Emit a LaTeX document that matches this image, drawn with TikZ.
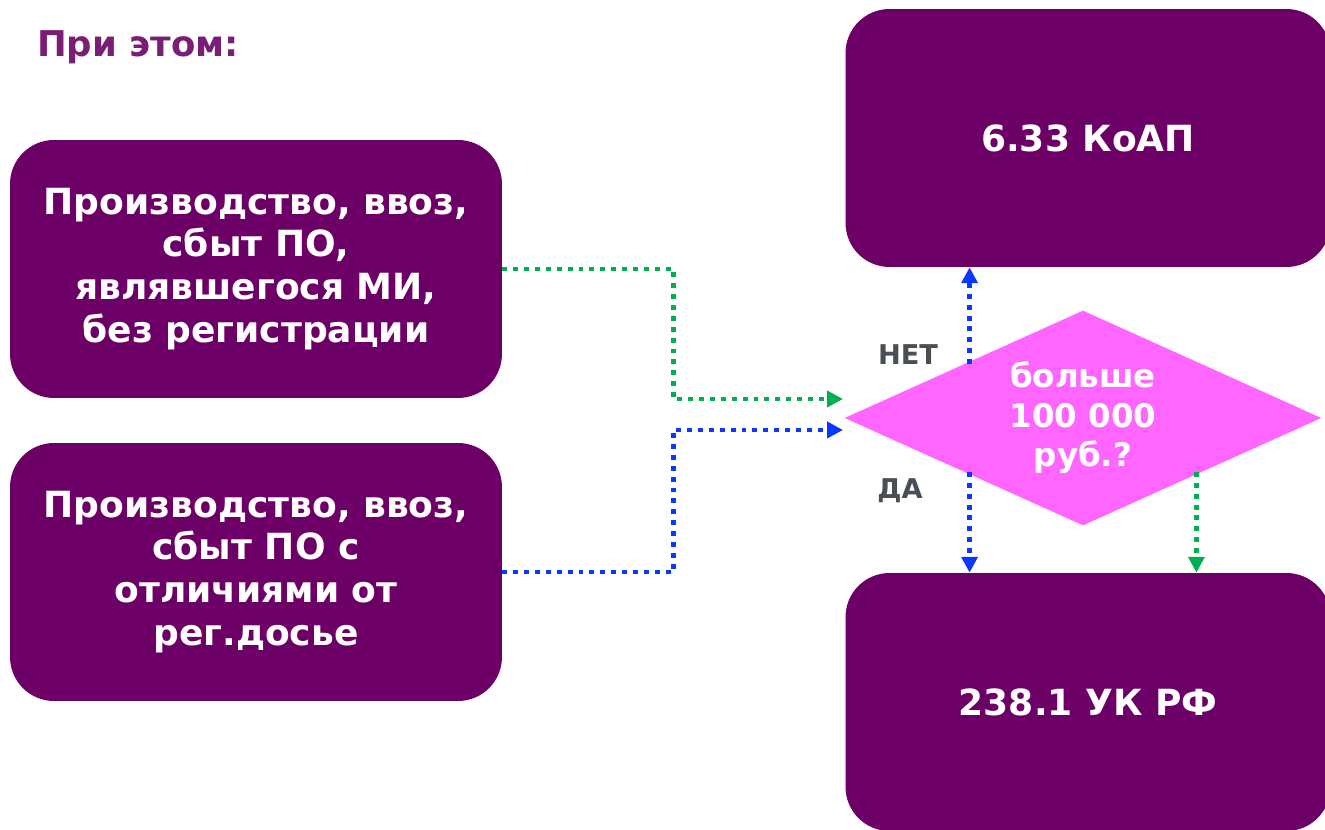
\documentclass[tikz,border=0pt]{standalone}
\usepackage{fontspec}
\setmainfont{DejaVu Sans}
\usepackage{tikz}
\usetikzlibrary{arrows.meta,shapes,positioning}
\usepackage{xcolor}

\definecolor{boxpurple}{HTML}{6D0066}
\definecolor{titlepurple}{HTML}{7A1D74}
\definecolor{decpink}{HTML}{FF66FF}
\definecolor{arrgreen}{HTML}{00B050}
\definecolor{arrblue}{HTML}{0A37FF}
\definecolor{lblgrey}{HTML}{4A4F55}

\begin{document}
\begin{tikzpicture}[x=0.02cm, y=-0.02cm, >={Triangle[length=9pt,width=9pt]},
		box/.style={rectangle, rounded corners=25pt, fill=boxpurple, text=white, align=center,
			font=\bfseries\fontsize{20.5}{24.4}\selectfont, minimum width=9.84cm, minimum height=5.16cm, inner sep=0pt},
		dec/.style={diamond, aspect=2.2, fill=decpink, text=white, align=center, inner sep=0pt,
			font=\bfseries\fontsize{18.5}{22.5}\selectfont, minimum width=9.54cm, minimum height=4.3cm},
		gline/.style={->, arrgreen, line width=2.8pt, dash pattern=on 2.8pt off 3.4pt},
		bline/.style={->, arrblue, line width=2.8pt, dash pattern=on 2.8pt off 3.4pt},
		lbl/.style={text=lblgrey, font=\bfseries\fontsize{15.5}{18}\selectfont}]
		\useasboundingbox (0,0) rectangle (1325,830);
		\node[anchor=west, text=titlepurple, font=\bfseries\fontsize{20.2}{24}\selectfont](title) at (31,47) {При этом:};
		\node[box](node1) at (256,269) {Производство, ввоз,\\сбыт ПО,\\являвшегося МИ,\\без регистрации};
		\node[box](node2) at (256,572) {Производство, ввоз,\\сбыт ПО с\\отличиями от\\рег.досье};
		\node[box, minimum width=9.7cm](node3) at (1088,138) {6.33 КоАП};
		\node[box, minimum width=9.7cm](node4) at (1088,702) {238.1 УК РФ};
		\node[dec](check) at (1083,418) {больше\\100 000\\руб.?};
		\coordinate (in1) at (843,399);
		\coordinate (in2) at (843,430);
		\draw[gline] (node1.east) -- ++(171,0) |- (in1);
		\draw[bline] (node2.east) -- ++(171,0) |- (in2);
		\draw[bline] ([xshift=3.4pt]check.north west) -- ([xshift=3.4pt]check.north west |- node3.south);
		\draw[bline] ([xshift=3.4pt]check.south west) -- ([xshift=3.4pt]check.south west |- node4.north);
		\draw[gline] ([xshift=-3.4pt]check.south east) -- ([xshift=-3.4pt]check.south east |- node4.north);
		\node[lbl](no) at (908,355) {НЕТ};
		\node[lbl](yes) at (900,491) {ДА};
	\end{tikzpicture}
\end{document}
